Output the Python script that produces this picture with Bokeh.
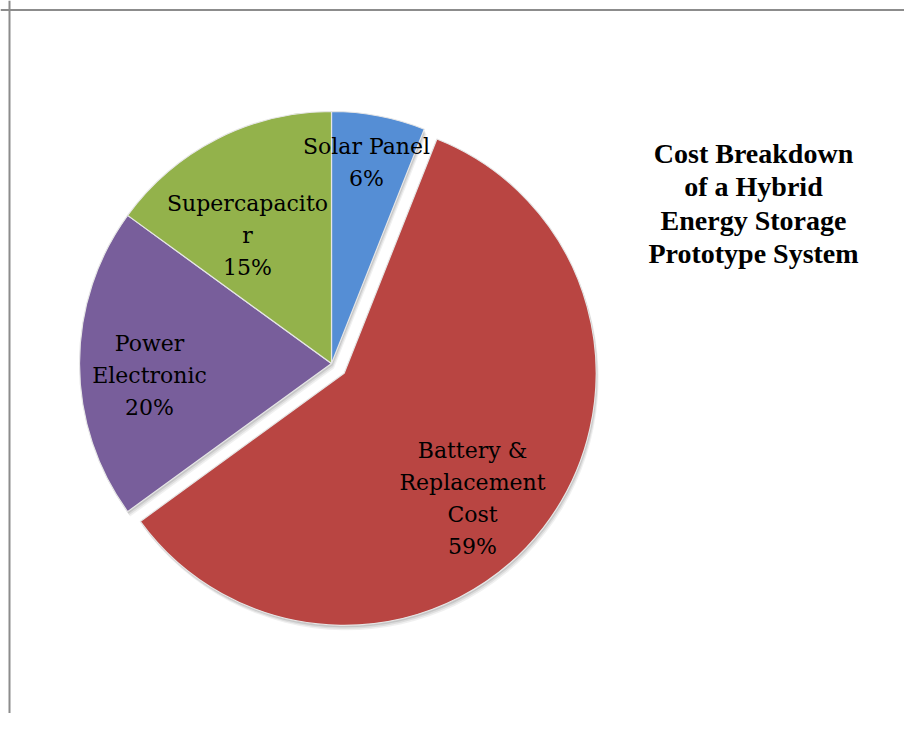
import math
from bokeh.plotting import figure
from bokeh.models import Range1d, Span
from bokeh.embed import file_html
from bokeh.resources import INLINE
from bokeh.core.properties import value

# ---- data ----
categories = ["Solar Panel", "Battery & Replacement Cost", "Power Electronic", "Supercapacitor"]
shares = [6, 59, 20, 15]
label_texts = ["Solar Panel\n6%", "Battery &\nReplacement\nCost\n59%", "Power\nElectronic\n20%", "Supercapacito\nr\n15%"]
colors = ["#558ED5", "#B94542", "#785E9B", "#93B24B"]
exploded = [0, 1, 0, 0]
title_lines = "Cost Breakdown\nof a Hybrid\nEnergy Storage\nPrototype System"

# ---- layout (pixel-like data units, y up = -image y) ----
W, H = 904, 713
cx, cy = 331, -363
R = 252
explode_dist = 16
label_pos = [(366, -162), (472, -498), (149, -375), (247, -235)]

p = figure(width=W, height=H, output_backend="svg", toolbar_location=None,
           x_range=Range1d(0, W), y_range=Range1d(-H, 0),
           min_border=0, match_aspect=False)
p.axis.visible = False
p.grid.visible = False
p.outline_line_color = None
p.background_fill_color = "white"
p.border_fill_color = "white"

total = sum(shares)
starts, ends, xs, ys = [], [], [], []
cum = 0.0
for s, e in zip(shares, exploded):
    a0 = math.pi / 2 - 2 * math.pi * cum / total
    a1 = math.pi / 2 - 2 * math.pi * (cum + s) / total
    mid = (a0 + a1) / 2
    starts.append(a0)
    ends.append(a1)
    xs.append(cx + e * explode_dist * math.cos(mid))
    ys.append(cy + e * explode_dist * math.sin(mid))
    cum += s

# soft shadow
for off, alpha in [(5, 0.06), (3.5, 0.08), (2, 0.10)]:
    p.wedge(x=[x + off * 0.5 for x in xs], y=[y - off for y in ys], radius=R,
            start_angle=starts, end_angle=ends, direction="clock",
            fill_color="black", fill_alpha=alpha, line_color=None)

p.wedge(x=xs, y=ys, radius=R, start_angle=starts, end_angle=ends, direction="clock",
        fill_color=colors, line_color="#E6E6E6", line_width=1.2)

p.text(x=[q[0] for q in label_pos], y=[q[1] for q in label_pos], text=label_texts,
       text_align="center", text_baseline="middle", text_font=value("DejaVu Serif"),
       text_font_size="22px", text_color="black", text_line_height=1.28)

p.text(x=[753], y=[-203], text=[title_lines], text_align="center", text_baseline="middle",
       text_font=value("Liberation Serif"), text_font_style="bold", text_font_size="28px",
       text_color="black", text_line_height=1.07)

# frame border (top and left visible in crop)
p.add_layout(Span(location=9, dimension="height", line_color="#8C8C8C", line_width=2))
p.add_layout(Span(location=-9.5, dimension="width", line_color="#8C8C8C", line_width=2))

open("out.html", "w").write(file_html(p, INLINE))
